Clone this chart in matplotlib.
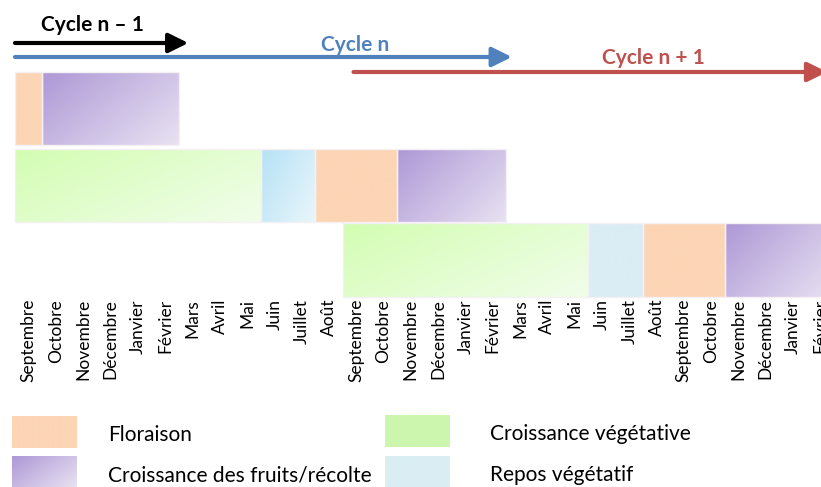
import numpy as np
import matplotlib
matplotlib.use("Agg")
import matplotlib.pyplot as plt
from matplotlib.patches import Rectangle
from matplotlib.colors import to_rgb

# ---------------- data ----------------
months = ["Septembre", "Octobre", "Novembre", "Décembre", "Janvier", "Février",
          "Mars", "Avril", "Mai", "Juin", "Juillet", "Août",
          "Septembre", "Octobre", "Novembre", "Décembre", "Janvier", "Février",
          "Mars", "Avril", "Mai", "Juin", "Juillet", "Août",
          "Septembre", "Octobre", "Novembre", "Décembre", "Janvier", "Février"]

phases = ["Floraison", "Croissance des fruits/récolte",
          "Croissance végétative", "Repos végétatif"]

row1_phase = ["Floraison", "Croissance des fruits/récolte"]
row1_start = [0, 1]
row1_dur = [1, 5]

row2_phase = ["Croissance végétative", "Repos végétatif", "Floraison",
              "Croissance des fruits/récolte"]
row2_start = [0, 9, 11, 14]
row2_dur = [9, 2, 3, 4]

row3_phase = ["Croissance végétative", "Repos végétatif", "Floraison",
              "Croissance des fruits/récolte"]
row3_start = [12, 21, 23, 26]
row3_dur = [9, 2, 3, 4]

cycle_names = ["Cycle n – 1", "Cycle n", "Cycle n + 1"]
cycle_start = [0.0, 0.0, 12.4]
cycle_end = [6.35, 18.2, 29.75]

# ---------------- styles ----------------
W, H = 821, 487
fig = plt.figure(figsize=(W / 100, H / 100), dpi=100)
plt.rcParams['font.family'] = ['Lato', 'DejaVu Sans']

X0, MW = 15.0, 27.3
ax = fig.add_axes([0, 0, 1, 1])
ax.axis('off')

grad = {
    "Floraison": ("#FCD5B5", "#FCD5B5"),
    "Croissance des fruits/récolte": ("#AE98D6", "#E8E2F2"),
    "Croissance végétative": ("#D3FDB2", "#F1FDEA"),
    "Repos végétatif": ("#B5E2F5", "#EAF6FB"),
}
flat_repos = ("#DAEDF4", "#DAEDF4")


def grad_img(c0, c1, n=64):
    c0 = np.array(to_rgb(c0)); c1 = np.array(to_rgb(c1))
    u = np.linspace(0, 1, n)
    t = (u[None, :] * 0.6 + u[:, None] * 0.4)
    return c0[None, None, :] * (1 - t[..., None]) + c1[None, None, :] * t[..., None]


def draw_box(a, x0, x1, y0, y1, cols):
    a.imshow(grad_img(*cols), extent=(x0, x1, y1, y0), aspect='auto',
             interpolation='bilinear', zorder=1)
    a.add_patch(Rectangle((x0, y0), x1 - x0, y1 - y0, fill=False,
                          edgecolor='#F4F0F4', lw=1.0, zorder=2))


rows = [
    (row1_phase, row1_start, row1_dur, 72, 145, False),
    (row2_phase, row2_start, row2_dur, 149, 222, False),
    (row3_phase, row3_start, row3_dur, 223, 297, True),
]
for ph, st, du, y0, y1, flat in rows:
    for p, s, d in zip(ph, st, du):
        cols = grad[p]
        if flat and p == "Repos végétatif":
            cols = flat_repos
        draw_box(ax, s, s + d, y0, y1, cols)

for i, m in enumerate(months):
    ax.text(i + 0.5, 299, m, rotation=90, ha='center', va='top',
            fontsize=12.5, color='black', zorder=3)

arrow_y = [43, 57, 72]
arrow_col = ["#000000", "#4F81BD", "#C0504D"]
for s, e, y, c in zip(cycle_start, cycle_end, arrow_y, arrow_col):
    ax.annotate('', xy=(e, y), xytext=(s, y), annotation_clip=False,
                arrowprops=dict(arrowstyle='-|>,head_length=0.85,head_width=0.42',
                                lw=3.0, color=c, shrinkA=0, shrinkB=0,
                                mutation_scale=14), zorder=4)

title_pos = [(92, 25), (355, 45), (653, 58)]
for name, (px, py), c in zip(cycle_names, title_pos, arrow_col):
    ax.text((px - X0) / MW, py, name, ha='center', va='center',
            fontsize=15, fontweight='bold', color=c, zorder=5)

ax.set_xlim(-X0 / MW, (W - X0) / MW)
ax.set_ylim(H, 0)

lg = fig.add_axes([0, 0, 1, 1])
lg.axis('off')
lg.patch.set_alpha(0)
leg_boxes = [
    ("Floraison", 12, 77, 416, 448, ("#FCD5B5", "#FCD5B5"), 108, 435),
    ("Croissance des fruits/récolte", 12, 77, 456, 487, grad["Croissance des fruits/récolte"], 108, 475),
    ("Croissance végétative", 385, 450, 415, 447, ("#CCF6AE", "#CCF6AE"), 490, 434),
    ("Repos végétatif", 385, 450, 456, 487, ("#DAEEF3", "#DAEEF3"), 490, 475),
]
for name, x0, x1, y0, y1, cols, tx, ty in leg_boxes:
    lg.imshow(grad_img(*cols), extent=(x0, x1, y1, y0), aspect='auto',
              interpolation='bilinear', zorder=1)
    lg.text(tx, ty, name, ha='left', va='center', fontsize=15, color='black')
lg.set_xlim(0, W)
lg.set_ylim(H, 0)

fig.savefig("out.png", dpi=100)
